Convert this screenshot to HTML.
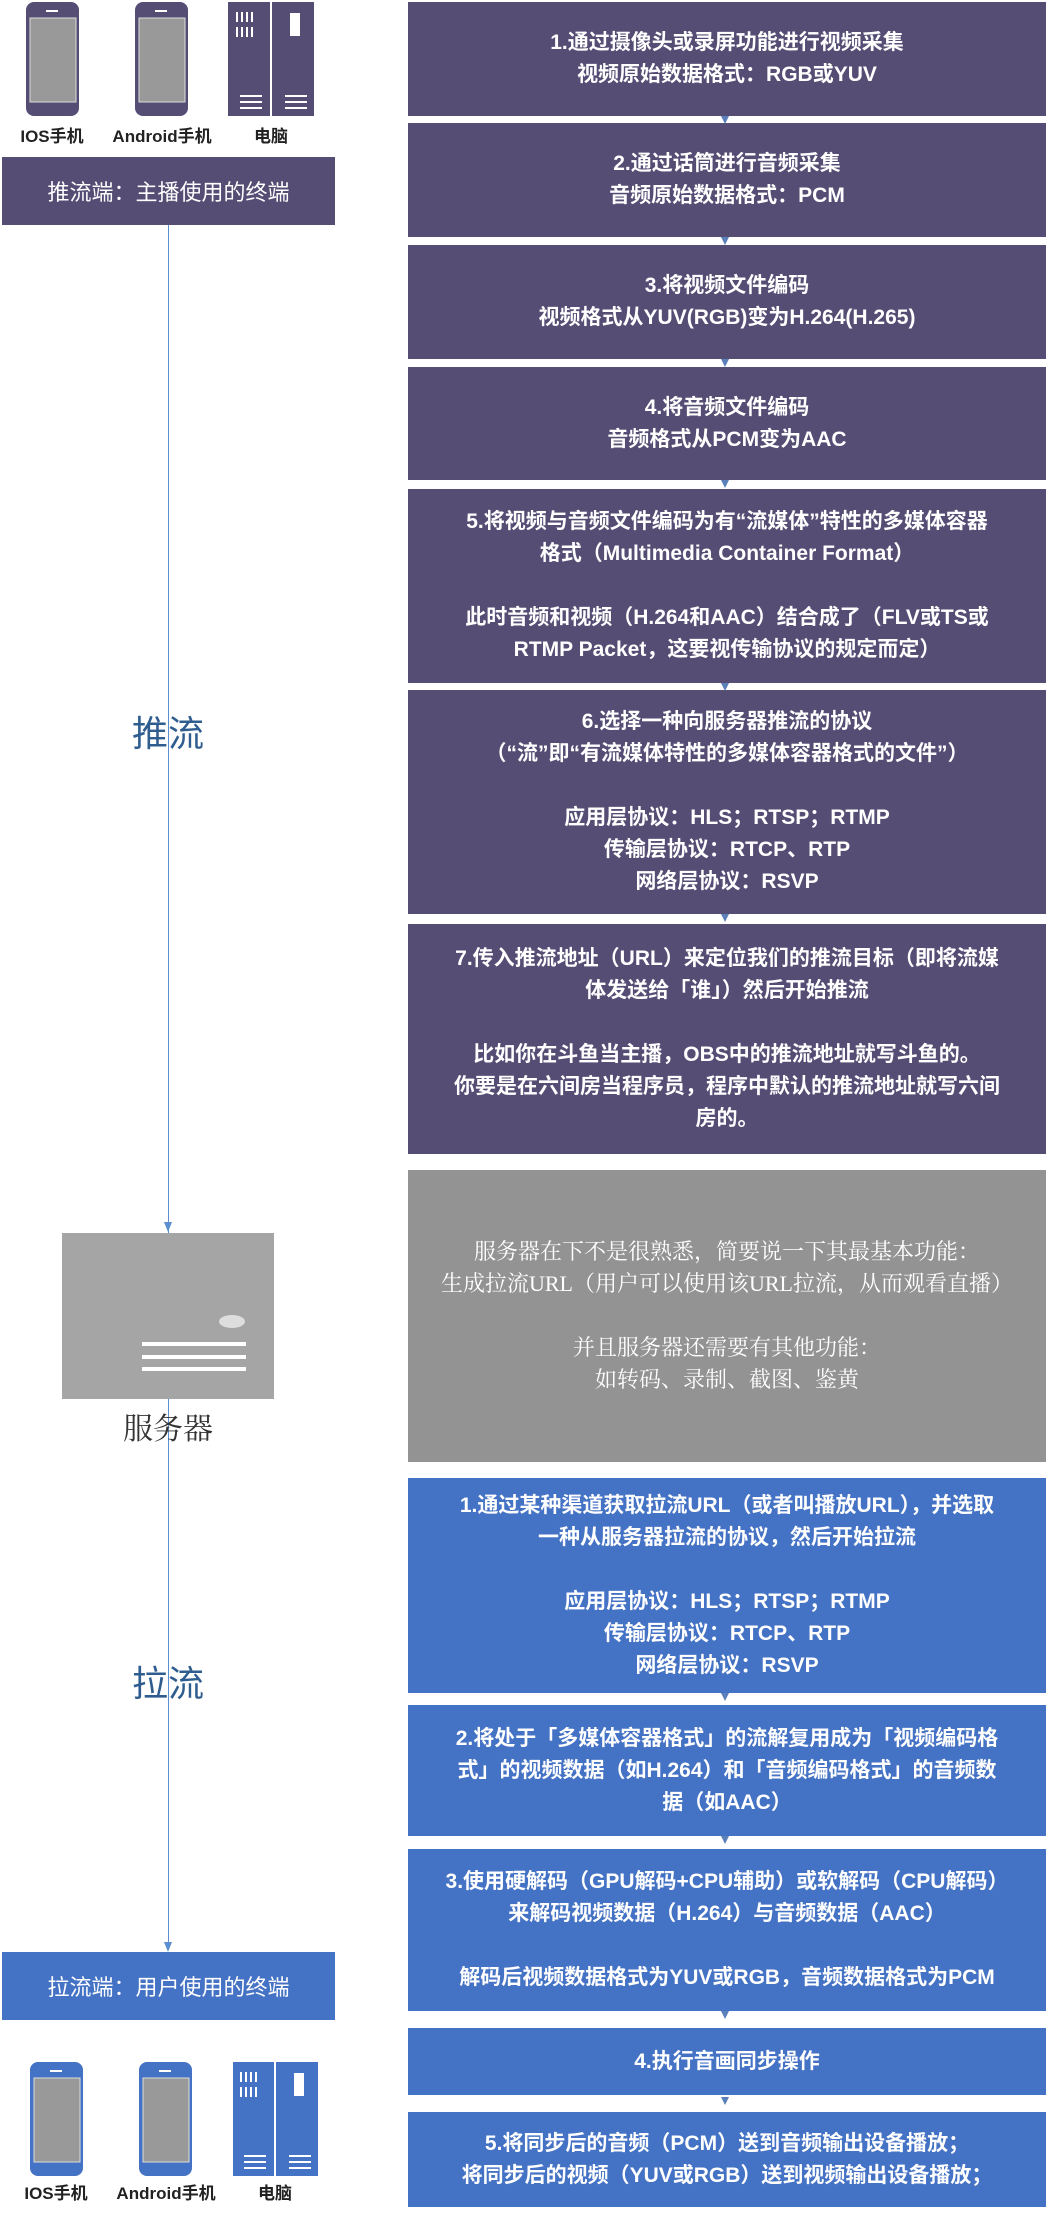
<!DOCTYPE html><html><head><meta charset="utf-8"><style>
body{margin:0;width:1049px;height:2215px;position:relative;background:#fff;font-family:"Liberation Sans","Noto Sans CJK SC",sans-serif;overflow:hidden}
.b{position:absolute;left:408px;width:638px;display:flex;align-items:center;justify-content:center;text-align:center;color:#fff;font-size:21px;line-height:32px;font-weight:bold;box-sizing:border-box;padding:0 20px}
.p{background:#554d74}.bl{background:#4472c4}.g{background:#939393;font-weight:normal;font-family:"Liberation Serif","Noto Serif CJK SC",serif}
.a{position:absolute;left:721px;width:0;height:0;border-left:4px solid transparent;border-right:4px solid transparent;border-top:8px solid #5b7fb8}
.lb{position:absolute;color:#fff;display:flex;align-items:center;justify-content:center;font-size:22px;left:2px;width:333px;height:68px}
</style></head><body>
<div class="b p" style="top:2px;height:114px">1.通过摄像头或录屏功能进行视频采集<br>视频原始数据格式：RGB或YUV</div>
<div class="b p" style="top:123px;height:114px">2.通过话筒进行音频采集<br>音频原始数据格式：PCM</div>
<div class="b p" style="top:245px;height:114px">3.将视频文件编码<br>视频格式从YUV(RGB)变为H.264(H.265)</div>
<div class="b p" style="top:367px;height:113px">4.将音频文件编码<br>音频格式从PCM变为AAC</div>
<div class="b p" style="top:489px;height:194px">5.将视频与音频文件编码为有“流媒体”特性的多媒体容器<br>格式（Multimedia Container Format）<br><br>此时音频和视频（H.264和AAC）结合成了（FLV或TS或<br>RTMP Packet，这要视传输协议的规定而定）</div>
<div class="b p" style="top:690px;height:224px">6.选择一种向服务器推流的协议<br>（“流”即“有流媒体特性的多媒体容器格式的文件”）<br><br>应用层协议：HLS；RTSP；RTMP<br>传输层协议：RTCP、RTP<br>网络层协议：RSVP</div>
<div class="b p" style="top:924px;height:230px">7.传入推流地址（URL）来定位我们的推流目标（即将流媒<br>体发送给「谁」）然后开始推流<br><br>比如你在斗鱼当主播，OBS中的推流地址就写斗鱼的。<br>你要是在六间房当程序员，程序中默认的推流地址就写六间<br>房的。</div>
<div class="b g" style="top:1170px;height:292px;font-size:22px">服务器在下不是很熟悉，简要说一下其最基本功能：<br>生成拉流URL（用户可以使用该URL拉流，从而观看直播）<br><br>并且服务器还需要有其他功能：<br>如转码、录制、截图、鉴黄</div>
<div class="b bl" style="top:1478px;height:215px">1.通过某种渠道获取拉流URL（或者叫播放URL），并选取<br>一种从服务器拉流的协议，然后开始拉流<br><br>应用层协议：HLS；RTSP；RTMP<br>传输层协议：RTCP、RTP<br>网络层协议：RSVP</div>
<div class="b bl" style="top:1705px;height:131px">2.将处于「多媒体容器格式」的流解复用成为「视频编码格<br>式」的视频数据（如H.264）和「音频编码格式」的音频数<br>据（如AAC）</div>
<div class="b bl" style="top:1849px;height:162px">3.使用硬解码（GPU解码+CPU辅助）或软解码（CPU解码）<br>来解码视频数据（H.264）与音频数据（AAC）<br><br>解码后视频数据格式为YUV或RGB，音频数据格式为PCM</div>
<div class="b bl" style="top:2028px;height:67px">4.执行音画同步操作</div>
<div class="b bl" style="top:2112px;height:95px">5.将同步后的音频（PCM）送到音频输出设备播放；<br>将同步后的视频（YUV或RGB）送到视频输出设备播放；</div>
<div class="a" style="top:116px"></div><div class="a" style="top:237px"></div><div class="a" style="top:359px"></div><div class="a" style="top:480px"></div><div class="a" style="top:683px"></div><div class="a" style="top:914px"></div><div class="a" style="top:1693px"></div><div class="a" style="top:1836px"></div><div class="a" style="top:2011px"></div><div class="a" style="top:2097px"></div>
<div style="position:absolute;left:168px;top:225px;width:1px;height:1725px;background:#5b8fd0"></div>
<div style="position:absolute;left:164px;top:1222px;border-left:4px solid transparent;border-right:4px solid transparent;border-top:10px solid #5b8fd0"></div>
<div style="position:absolute;left:164px;top:1942px;border-left:4px solid transparent;border-right:4px solid transparent;border-top:10px solid #5b8fd0"></div>
<div class="lb" style="top:157px;background:#554d74">推流端：主播使用的终端</div>
<div class="lb" style="top:1952px;background:#4472c4">拉流端：用户使用的终端</div>
<div style="position:absolute;left:108px;top:705px;font-size:36px;color:#2f5d8f;width:120px;text-align:center">推流</div>
<div style="position:absolute;left:108px;top:1655px;font-size:36px;color:#2f5d8f;width:120px;text-align:center">拉流</div>
<div style="position:absolute;left:62px;top:1233px;width:212px;height:166px;background:#a5a5a5">
<div style="position:absolute;left:157px;top:82px;width:26px;height:13px;border-radius:50%;background:#ddd"></div>
<div style="position:absolute;left:80px;top:109px;width:104px;height:4px;background:#fff"></div>
<div style="position:absolute;left:80px;top:122px;width:104px;height:4px;background:#fff"></div>
<div style="position:absolute;left:80px;top:134px;width:104px;height:4px;background:#fff"></div></div>
<div style="position:absolute;left:98px;top:1404px;width:140px;text-align:center;font-size:30px;color:#333;font-family:'Liberation Serif','Noto Serif CJK SC',serif">服务器</div>
<svg style="position:absolute;left:0;top:0" width="340" height="150">
<g fill="#554d74"><rect x="26" y="2" width="53" height="114" rx="8"/><rect x="135" y="2" width="53" height="114" rx="8"/><rect x="228" y="2" width="42" height="114"/><rect x="272" y="2" width="42" height="114"/></g>
<g fill="#999" stroke="#ddd"><rect x="30" y="18" width="46" height="84"/><rect x="139" y="18" width="46" height="84"/></g>
<g fill="#fff"><rect x="46" y="10" width="12" height="2"/><rect x="155" y="10" width="12" height="2"/><rect x="290" y="13" width="10" height="23"/><rect x="240" y="95" width="22" height="2"/><rect x="240" y="101" width="22" height="2"/><rect x="240" y="107" width="22" height="2"/><rect x="285" y="95" width="22" height="2"/><rect x="285" y="101" width="22" height="2"/><rect x="285" y="107" width="22" height="2"/><rect x="236" y="12" width="2" height="10"/><rect x="241" y="12" width="2" height="10"/><rect x="246" y="12" width="2" height="10"/><rect x="251" y="12" width="2" height="10"/><rect x="236" y="27" width="2" height="10"/><rect x="241" y="27" width="2" height="10"/><rect x="246" y="27" width="2" height="10"/><rect x="251" y="27" width="2" height="10"/></g>
<text x="52" y="142" font-size="17" font-weight="bold" text-anchor="middle" fill="#222" font-family="Liberation Sans,Noto Sans CJK SC,sans-serif">IOS手机</text>
<text x="162" y="142" font-size="17" font-weight="bold" text-anchor="middle" fill="#222" font-family="Liberation Sans,Noto Sans CJK SC,sans-serif">Android手机</text>
<text x="271" y="142" font-size="17" font-weight="bold" text-anchor="middle" fill="#222" font-family="Liberation Sans,Noto Sans CJK SC,sans-serif">电脑</text>
</svg>
<svg style="position:absolute;left:0;top:2060px" width="340" height="155">
<g fill="#4472c4"><rect x="30" y="2" width="53" height="114" rx="8"/><rect x="139" y="2" width="53" height="114" rx="8"/><rect x="233" y="2" width="41" height="114"/><rect x="276" y="2" width="42" height="114"/></g>
<g fill="#999" stroke="#ddd"><rect x="34" y="18" width="46" height="84"/><rect x="143" y="18" width="46" height="84"/></g>
<g fill="#fff"><rect x="50" y="10" width="12" height="2"/><rect x="159" y="10" width="12" height="2"/><rect x="294" y="13" width="10" height="23"/><rect x="244" y="95" width="22" height="2"/><rect x="244" y="101" width="22" height="2"/><rect x="244" y="107" width="22" height="2"/><rect x="289" y="95" width="22" height="2"/><rect x="289" y="101" width="22" height="2"/><rect x="289" y="107" width="22" height="2"/><rect x="240" y="12" width="2" height="10"/><rect x="245" y="12" width="2" height="10"/><rect x="250" y="12" width="2" height="10"/><rect x="255" y="12" width="2" height="10"/><rect x="240" y="27" width="2" height="10"/><rect x="245" y="27" width="2" height="10"/><rect x="250" y="27" width="2" height="10"/><rect x="255" y="27" width="2" height="10"/></g>
<text x="56" y="139" font-size="17" font-weight="bold" text-anchor="middle" fill="#222" font-family="Liberation Sans,Noto Sans CJK SC,sans-serif">IOS手机</text>
<text x="166" y="139" font-size="17" font-weight="bold" text-anchor="middle" fill="#222" font-family="Liberation Sans,Noto Sans CJK SC,sans-serif">Android手机</text>
<text x="275" y="139" font-size="17" font-weight="bold" text-anchor="middle" fill="#222" font-family="Liberation Sans,Noto Sans CJK SC,sans-serif">电脑</text>
</svg>
</body></html>
